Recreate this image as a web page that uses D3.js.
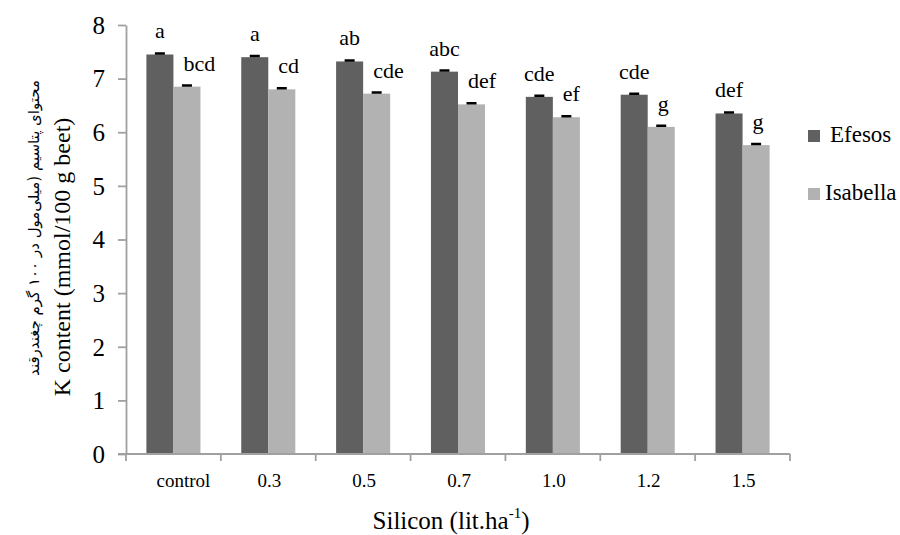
<!DOCTYPE html>
<html><head><meta charset="utf-8">
<script src="https://cdn.jsdelivr.net/npm/d3@7/dist/d3.min.js"></script>
<style>
body{margin:0;background:#fff}
svg{display:block}
svg text{font-family:"Liberation Serif","Times New Roman","DejaVu Serif",serif;fill:#000}
svg text.fa{font-family:"DejaVu Sans","Noto Sans",sans-serif}
</style>
</head><body>
<svg id="c" width="900" height="535"></svg>
<script>
const categories = ["control","0.3","0.5","0.7","1.0","1.2","1.5"];
const seriesNames = ["Efesos","Isabella"];
const efesos = [7.45,7.40,7.32,7.13,6.66,6.70,6.35];
const isabella = [6.85,6.80,6.72,6.52,6.28,6.10,5.76];
const efesosErr = [0.02,0.02,0.02,0.02,0.02,0.02,0.02];
const isabellaErr = [0.02,0.02,0.02,0.02,0.02,0.02,0.02];
const efesosLetters = ["a","a","ab","abc","cde","cde","def"];
const isabellaLetters = ["bcd","cd","cde","def","ef","g","g"];
const yTicks = [0,1,2,3,4,5,6,7,8];
const colors = ["#606060","#b2b2b2"];

const svg = d3.select("#c");
const pLeft = 126, pRight = 790, pTop = 25, pBottom = 454;
const axisColor = "#a0a0a0";

const x = d3.scaleBand().domain(categories).range([pLeft,pRight]).paddingInner(0.43).paddingOuter(0.215);
const xs = d3.scaleBand().domain(seriesNames).range([0,x.bandwidth()]);
const y = d3.scaleLinear().domain([0,8]).range([pBottom,pTop]);

const data = categories.map((c,i)=>({c, vals:[
  {s:"Efesos",v:efesos[i],e:efesosErr[i],l:efesosLetters[i]},
  {s:"Isabella",v:isabella[i],e:isabellaErr[i],l:isabellaLetters[i]}]}));

// bars
const g = svg.append("g");
const grp = g.selectAll("g.grp").data(data).join("g").attr("transform",d=>`translate(${x(d.c)},0)`);
grp.selectAll("rect").data(d=>d.vals).join("rect")
  .attr("x",d=>xs(d.s)).attr("width",xs.bandwidth())
  .attr("y",d=>y(d.v)).attr("height",d=>pBottom-y(d.v))
  .attr("fill",(d,i)=>colors[i]);
// error bars
grp.selectAll("path.err").data(d=>d.vals).join("path").attr("class","err")
  .attr("d",d=>{const cx=xs(d.s)+xs.bandwidth()/2;const yt=y(d.v+d.e);return `M${cx},${y(d.v)}V${yt}M${cx-5},${yt}H${cx+5}`;})
  .attr("stroke","#000").attr("stroke-width",2.5).attr("fill","none");
// significance letters: Efesos centred over bar, Isabella set from bar's left edge
grp.selectAll("text.lt").data(d=>d.vals).join("text").attr("class","lt")
  .attr("x",(d,i)=> i===0 ? xs(d.s)+xs.bandwidth()/2 : xs(d.s)+10)
  .attr("text-anchor",(d,i)=> i===0 ? "middle" : "start")
  .attr("y",d=>y(d.v)-16)
  .attr("font-size",22)
  .text(d=>d.l);

// y axis
const ya = svg.append("g").attr("transform",`translate(${pLeft},0)`)
  .call(d3.axisLeft(y).tickValues(yTicks).tickSize(8).tickPadding(13).tickSizeOuter(0));
ya.select(".domain").attr("stroke",axisColor).attr("stroke-width",1.8);
ya.selectAll(".tick line").attr("stroke",axisColor).attr("stroke-width",1.8);
ya.selectAll(".tick text").attr("font-size",25).attr("fill",null).attr("dy","0.33em");

// x axis
const xa = svg.append("g").attr("transform",`translate(0,${pBottom})`);
xa.append("line").attr("x1",pLeft-8).attr("x2",pRight).attr("y1",0).attr("y2",0).attr("stroke",axisColor).attr("stroke-width",1.8);
const boundaries = [pLeft].concat(categories.slice(1).map(c=>x(c)-x.step()*x.paddingInner()/2)).concat([pRight]);
xa.selectAll("line.tk").data(boundaries).join("line").attr("class","tk")
  .attr("x1",d=>d).attr("x2",d=>d).attr("y1",0).attr("y2",7).attr("stroke",axisColor).attr("stroke-width",1.8);
xa.selectAll("text").data(categories).join("text")
  .attr("x",d=>x(d)+x.bandwidth()/2+ (d==="control"?10:1)).attr("y",33)
  .attr("text-anchor","middle").attr("font-size",19)
  .text(d=>d);

// x title
const xt = svg.append("text").attr("x",451).attr("y",529).attr("text-anchor","middle").attr("font-size",25);
xt.append("tspan").text("Silicon (lit.ha");
xt.append("tspan").attr("font-size",15).attr("dy",-11).text("-1");
xt.append("tspan").attr("dy",11).text(")");

// y titles
svg.append("text").attr("transform","translate(70,257) rotate(-90)").attr("text-anchor","middle")
  .attr("font-size",24).text("K content (mmol/100 g beet)");
svg.append("text").attr("class","fa").attr("transform","translate(39,228) rotate(-90)").attr("text-anchor","middle")
  .attr("font-size",15).attr("direction","rtl")
  .text("محتوای پتاسیم (میلی‌مول در ۱۰۰ گرم چغندرقند");

// legend
const lg = svg.append("g");
const legendRows = [142, 200];
const legendTextX = [830, 825];
seriesNames.forEach((s,i)=>{
  lg.append("rect").attr("x",808).attr("y",legendRows[i]-12).attr("width",12).attr("height",12).attr("fill",colors[i]);
  lg.append("text").attr("x",legendTextX[i]).attr("y",legendRows[i]).attr("font-size",23).text(s);
});
</script>
</body></html>
